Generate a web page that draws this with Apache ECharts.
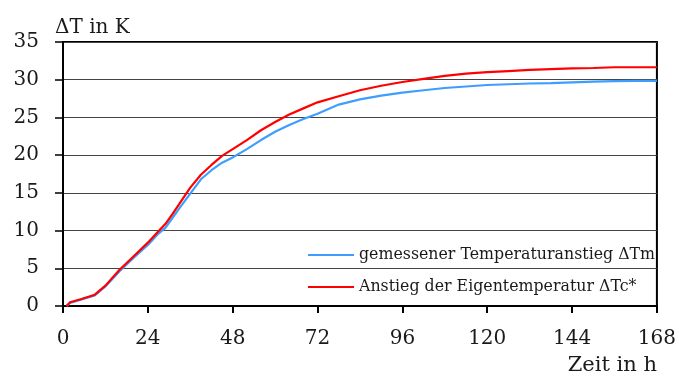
<!DOCTYPE html>
<html>
<head>
<meta charset="utf-8">
<script src="https://cdn.jsdelivr.net/npm/echarts@6/dist/echarts.min.js"></script>
<style>html,body{margin:0;padding:0;background:#fff}#c{width:679px;height:376px}</style>
</head>
<body>
<div id="c"></div>
<script>
const hours = [1,2,5,9,12,16,20,24,27,29,31,33,36,39,42,45,48,52,56,60,64,68,72,78,84,90,96,102,108,114,120,126,132,138,144,150,156,162,168];
const measured = [0,0.4,0.85,1.4,2.6,4.6,6.4,8.1,9.6,10.4,11.7,13.0,14.9,16.8,18.0,19.0,19.7,20.8,22.0,23.1,24.0,24.8,25.5,26.7,27.4,27.9,28.3,28.6,28.9,29.1,29.3,29.4,29.5,29.55,29.65,29.75,29.8,29.85,29.85];
const calculated = [0,0.5,0.9,1.5,2.7,4.8,6.6,8.4,9.9,10.9,12.2,13.6,15.7,17.4,18.7,19.9,20.8,22.0,23.3,24.4,25.4,26.2,27.0,27.8,28.6,29.2,29.7,30.1,30.5,30.8,31.0,31.15,31.3,31.4,31.5,31.55,31.65,31.65,31.65];
const xTicks = [0,24,48,72,96,120,144,168];
const yTicks = [0,5,10,15,20,25,30,35];
const seriesNames = ['gemessener Temperaturanstieg ΔTm','Anstieg der Eigentemperatur ΔTc*'];
const yName = 'ΔT in K';
const xName = 'Zeit in h';

const FONT = 'DejaVu Serif';
const TXT = '#1a1a1a';
const chart = echarts.init(document.getElementById('c'), null, {renderer:'canvas'});
chart.setOption({
  animation:false,
  backgroundColor:'#fff',
  grid:{left:63,right:19,top:42,bottom:70,show:true,borderColor:'#000',borderWidth:2,backgroundColor:'transparent'},
  xAxis:{type:'value',min:xTicks[0],max:xTicks[xTicks.length-1],interval:24,
    axisLine:{lineStyle:{color:'#000',width:2}},
    axisTick:{show:true,inside:false,length:7,lineStyle:{color:'#000',width:2}},
    axisLabel:{color:TXT,fontFamily:FONT,fontSize:20,margin:23},
    splitLine:{show:false}},
  yAxis:{type:'value',min:yTicks[0],max:yTicks[yTicks.length-1],interval:5,
    axisLine:{show:true,lineStyle:{color:'#000',width:2}},
    axisTick:{show:true,inside:false,length:8,lineStyle:{color:'#000',width:1.5}},
    axisLabel:{color:TXT,fontFamily:FONT,fontSize:20,margin:24},
    splitLine:{show:true,lineStyle:{color:'#444',width:1.2}}},
  legend:{orient:'vertical',left:303,top:241,icon:'rect',itemWidth:46,itemHeight:2,itemGap:14,
    textStyle:{color:TXT,fontFamily:FONT,fontSize:15.8,lineHeight:18},
    data:seriesNames},
  graphic:[
    {type:'text',left:55,top:18,style:{text:yName,fontFamily:FONT,fontSize:20,fill:TXT}},
    {type:'text',right:22,top:355,style:{text:xName,fontFamily:FONT,fontSize:21,fill:TXT}}
  ],
  series:[
    {name:seriesNames[0],type:'line',symbol:'none',smooth:false,
     lineStyle:{color:'#3d9eff',width:2.2},itemStyle:{color:'#3d9eff'},
     data:hours.map((h,i)=>[h,measured[i]])},
    {name:seriesNames[1],type:'line',symbol:'none',smooth:false,
     lineStyle:{color:'#ff0000',width:2.2},itemStyle:{color:'#ff0000'},
     data:hours.map((h,i)=>[h,calculated[i]])}
  ]
});
</script>
</body>
</html>
